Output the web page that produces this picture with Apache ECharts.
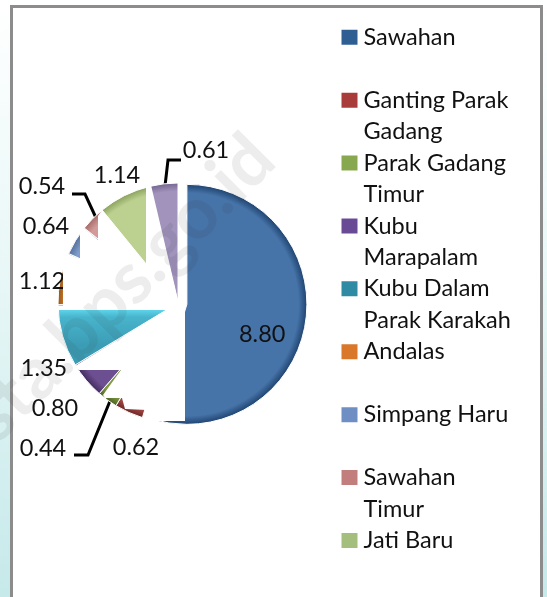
<!DOCTYPE html>
<html>
<head>
<meta charset="utf-8">
<style>
  html, body { margin: 0; padding: 0; background: linear-gradient(180deg, #ffffff 0%, #e6f6f6 50%, #c6e9ea 100%); }
  #main { width: 547px; height: 597px; }
</style>
<script src="https://cdn.jsdelivr.net/npm/echarts@6/dist/echarts.min.js"></script>
</head>
<body>
<div id="main"></div>
<script>
// values, clockwise from the top
var names = ['Sawahan', 'Ganting Parak Gadang', 'Parak Gadang Timur', 'Kubu Marapalam', 'Kubu Dalam Parak Karakah', 'Andalas', 'Simpang Haru', 'Sawahan Timur', 'Jati Baru', 'Jati']
var values = [8.80, 0.62, 0.44, 0.80, 1.35, 1.12, 0.64, 0.54, 1.14, 0.61]
var legendLines = [['Sawahan', ''], ['Ganting Parak', 'Gadang'], ['Parak Gadang', 'Timur'], ['Kubu', 'Marapalam'], ['Kubu Dalam', 'Parak Karakah'], ['Andalas', ''], ['Simpang Haru', ''], ['Sawahan', 'Timur'], ['Jati Baru', '']]
var colors = ['#4673a8', '#a94b48', '#7f9a45', '#6c4f90', '#3b9db5', '#d9822f', '#7f9dcc', '#d29a98', '#bcd08f', '#a193bc']
var edges = ['#1f4470', '#6e2826', '#4f6424', '#432c60', '#1f6b80', '#97561a', '#56719c', '#a56c6a', '#8ba35f', '#74668f']
var legendColors = ['#2f5f92', '#a83c3a', '#87a84e', '#694a94', '#2f8aa3', '#d9772a', '#6f8fc4', '#c27e7d', '#a4bf7d']

// where the labels sit and how the three leader lines run
// the first label stays inside its slice, the selected state ignores x/y
var labelSpots = [null, [136, 447], [43, 448], [55, 408], [44, 368], [42, 281], [46, 226], [42, 186], [117, 175], [206, 150]]
var leaderLines = {
  2: [[74, 455], [88, 455], [110, 401]],
  7: [[72, 194], [85, 194], [97, 220]],
  9: [[181, 160], [168, 160], [165, 186]]
}

var cx = 178
var cy = 303
var radius = 120

function sliceFill(i) {
  // Kubu Dalam has a bright rim along its cut top edge
  if (i === 4) {
    return {
      type: 'linear', x: 0, y: 308, x2: 0, y2: 345, global: true,
      colorStops: [
        { offset: 0, color: '#62dcf2' },
        { offset: 0.25, color: '#48b4cc' },
        { offset: 1, color: colors[i] }
      ]
    }
  }
  return {
    type: 'radial', x: cx, y: cy, r: radius, global: true,
    colorStops: [
      { offset: 0, color: colors[i] },
      { offset: 0.93, color: colors[i] },
      { offset: 1, color: edges[i] }
    ]
  }
}

var pieData = names.map(function (n, i) {
  var item = {
    name: n,
    value: values[i],
    selected: i === 0,
    itemStyle: { color: sliceFill(i) },
    labelLine: { show: leaderLines[i] !== undefined }
  }
  if (i === 0) {
    // blank first line and left padding push the text down and right inside the slice
    item.label = {
      position: 'inner',
      padding: [0, 0, 0, 26],
      lineHeight: 42,
      formatter: function (p) {
        return '\n' + p.value.toFixed(2)
      }
    }
  }
  return item
})

// white patches over the inner part of the pie, as in the original export
var maskPoints = [
  [146, 178], [151, 185], [179, 304], [185, 304], [185, 421], [147, 421], [147, 410], [125, 409],
  [122, 398], [105, 398], [103, 395], [121, 370], [79, 370], [75, 366], [166, 310], [57, 310],
  [57, 306], [63, 306], [63, 262], [68, 254], [80, 259], [80, 233], [84, 228], [98, 240],
  [98, 216], [102, 210], [146, 264]
]

var chart = echarts.init(document.getElementById('main'))
var fontName = 'Lato'

chart.setOption({
  animation: false,
  backgroundColor: 'transparent',
  textStyle: { fontFamily: fontName },
  legend: {
    orient: 'vertical',
    left: 339.5,
    top: -10,
    height: 1000,
    padding: 0,
    itemWidth: 18,
    itemHeight: 17,
    itemGap: -31.6,
    selectedMode: false,
    icon: 'rect',
    data: legendLines.map(function (l, i) {
      return { name: names[i], itemStyle: { color: legendColors[i] } }
    }),
    formatter: function (name) {
      var l = legendLines[names.indexOf(name)]
      return '\n' + l[0] + '\n' + (l[1] || ' ')
    },
    textStyle: { color: '#111', fontSize: 23.5, lineHeight: 31.5, fontFamily: fontName }
  },
  series: [
    {
      type: 'pie',
      z: 2,
      center: [cx, cy],
      radius: [0, radius],
      startAngle: 90,
      clockwise: true,
      selectedMode: 'multiple',
      selectedOffset: 9,
      silent: true,
      avoidLabelOverlap: false,
      data: pieData,
      itemStyle: { borderColor: '#fff', borderWidth: 1 },
      label: {
        show: true,
        color: '#111',
        fontSize: 23.5,
        fontFamily: fontName,
        formatter: function (p) {
          return p.value.toFixed(2)
        }
      },
      labelLine: { show: true, lineStyle: { color: '#000', width: 3 } },
      labelLayout: function (p) {
        var spot = labelSpots[p.dataIndex]
        if (!spot) {
          return {}
        }
        var out = { x: spot[0], y: spot[1], align: 'center', verticalAlign: 'middle' }
        if (leaderLines[p.dataIndex]) {
          out.labelLinePoints = leaderLines[p.dataIndex]
        }
        return out
      }
    }
  ],
  graphic: [
    {
      type: 'rect',
      z: 0,
      shape: { x: 11.5, y: 6.5, width: 530, height: 600 },
      style: { fill: '#fff', stroke: '#8c8c8c', lineWidth: 3 }
    },
    {
      type: 'polygon',
      z: 3,
      shape: { points: maskPoints },
      style: { fill: '#fff' }
    },
    {
      type: 'text',
      z: 4,
      x: 122,
      y: 288,
      rotation: Math.PI / 4,
      style: {
        text: 'sta.bps.go.id',
        font: 'bold 72px ' + fontName,
        fill: 'rgba(60,60,60,0.09)',
        align: 'center',
        verticalAlign: 'middle'
      }
    }
  ]
})
</script>
</body>
</html>
